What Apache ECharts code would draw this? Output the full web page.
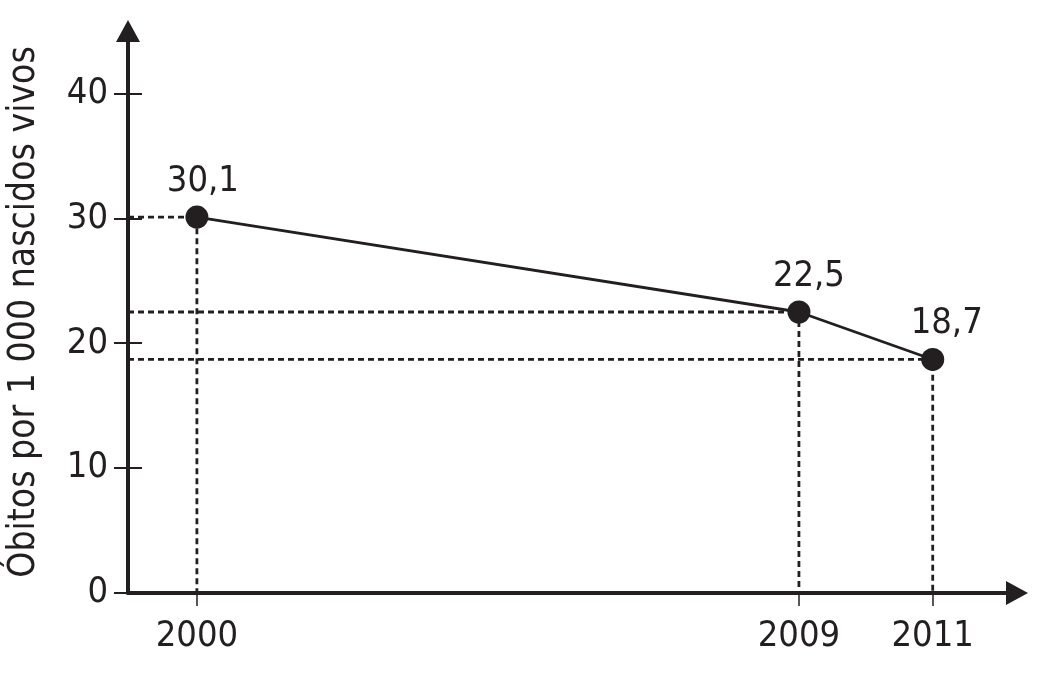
<!DOCTYPE html>
<html>
<head>
<meta charset="utf-8">
<script src="https://cdn.jsdelivr.net/npm/echarts@6/dist/echarts.min.js"></script>
<style>
html,body{margin:0;padding:0;background:#fff;}
#chart{width:1046px;height:700px;}
</style>
</head>
<body>
<div id="chart"></div>
<script>
// Data
var years = [2000, 2009, 2011];
var rates = [30.1, 22.5, 18.7];
var yTicks = [0, 10, 20, 30, 40];
var xTicks = [2000, 2009, 2011];
var yTitle = 'Óbitos por 1 000 nascidos vivos';

var INK = '#231f20';
var FONT = '"DejaVu Sans Condensed", "DejaVu Sans", sans-serif';
var X_MIN = 1998.97, X_MAX = 2012.26, Y_MIN = 0, Y_MAX = 45;

var points = years.map(function (y, i) { return [y, rates[i]]; });

var guideSeries = points.map(function (p) {
  return {
    type: 'line',
    data: [[X_MIN, p[1]], [p[0], p[1]], [p[0], Y_MIN]],
    symbol: 'none',
    silent: true,
    z: 1,
    lineStyle: { color: INK, width: 2.8, type: [6, 4] },
    animation: false
  };
});

var labelOffsets = [[6, 0], [10, 0], [14, 0]];

var chart = echarts.init(document.getElementById('chart'), null, { renderer: 'canvas' });
chart.setOption({
  backgroundColor: '#fff',
  animation: false,
  textStyle: { fontFamily: FONT },
  grid: { left: 128, right: 29, top: 31, bottom: 107, outerBoundsMode: 'none', containLabel: false },
  xAxis: {
    type: 'value',
    min: X_MIN,
    max: X_MAX,
    splitLine: { show: false },
    axisLine: {
      show: true, onZero: false,
      lineStyle: { color: INK, width: 4 },
      symbol: ['none', 'triangle'],
      symbolSize: [24, 22]
    },
    axisTick: { show: true, length: 13, customValues: xTicks, lineStyle: { color: INK, width: 1.5 } },
    axisLabel: {
      show: true, customValues: xTicks, margin: 26,
      color: INK, fontSize: 36, fontFamily: FONT,
      formatter: function (v) { return String(v); }
    }
  },
  yAxis: [{
    type: 'value',
    position: 'left',
    min: Y_MIN,
    max: Y_MAX,
    splitLine: { show: false },
    name: yTitle,
    nameLocation: 'middle',
    nameRotate: 90,
    nameGap: 85,
    nameTextStyle: { color: INK, fontSize: 37, fontFamily: FONT },
    axisLine: {
      show: true, onZero: false,
      lineStyle: { color: INK, width: 4 },
      symbol: ['none', 'triangle'],
      symbolSize: [24, 22]
    },
    axisTick: { show: true, length: 14, customValues: yTicks, lineStyle: { color: INK, width: 2 } },
    axisLabel: {
      show: true, customValues: yTicks, margin: 20,
      color: INK, fontSize: 36, fontFamily: FONT
    }
  }, {
    type: 'value',
    position: 'left',
    offset: 0,
    min: Y_MIN,
    max: Y_MAX,
    splitLine: { show: false },
    axisLine: { show: false },
    axisTick: { show: true, inside: true, length: 14, customValues: yTicks, lineStyle: { color: INK, width: 2 } },
    axisLabel: { show: false }
  }],
  series: guideSeries.concat([{
    type: 'line',
    data: points.map(function (p, i) {
      return { value: p, label: { offset: labelOffsets[i] } };
    }),
    z: 5,
    symbol: 'circle',
    symbolSize: 23,
    itemStyle: { color: INK },
    lineStyle: { color: INK, width: 2.8 },
    label: {
      show: true,
      position: 'top',
      distance: 6,
      color: INK,
      fontSize: 36,
      fontFamily: FONT,
      formatter: function (p) { return String(p.value[1]).replace('.', ','); }
    }
  }])
});
</script>
</body>
</html>
